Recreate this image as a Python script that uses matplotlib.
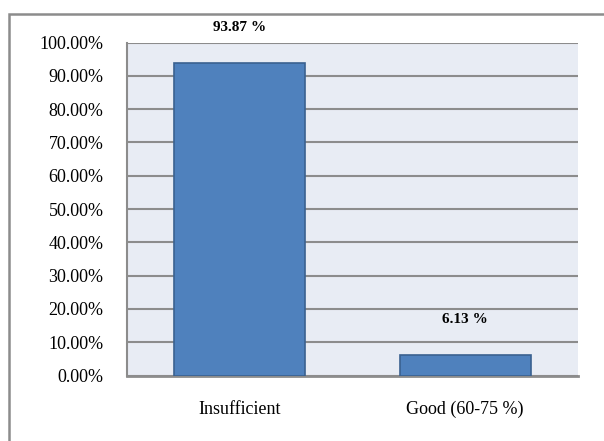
import matplotlib
matplotlib.use("Agg")
import matplotlib.pyplot as plt
from matplotlib.patches import Rectangle
from matplotlib.ticker import FuncFormatter

# Share of results per category (percent)
categories = ["Insufficient", "Good (60-75 %)"]
shares = [93.87, 6.13]
value_labels = ["93.87 %", "6.13 %"]

plt.rcParams['font.family'] = ['Liberation Serif', 'DejaVu Serif']

fig = plt.figure(figsize=(6.04, 4.41), dpi=100)

# outer chart frame (only left and top visible)
fig.patches.append(Rectangle((8.5 / 604, -0.1), 1.2, 0.1 + (441 - 13.5) / 441,
                             transform=fig.transFigure, fill=False,
                             edgecolor="#8c8c8c", linewidth=1.8))

ax = fig.add_axes([127 / 604, (441 - 375.5) / 441, 451 / 604, 333 / 441])
ax.set_facecolor("#e8ecf4")

x = range(len(categories))
bars = ax.bar(x, shares, width=0.58, color="#4f81bd", edgecolor="#3a6190",
              linewidth=1.2, zorder=3)

ax.set_xlim(-0.5, 1.5)
ax.set_ylim(0, 100)
ax.set_yticks(range(0, 101, 10))
ax.yaxis.set_major_formatter(FuncFormatter(lambda v, p: f"{v:.2f}%"))
ax.set_xticks(list(x))
ax.set_xticklabels(categories, fontsize=13)
ax.tick_params(axis="y", labelsize=13, length=0, pad=17)
ax.tick_params(axis="x", length=0, pad=18)
ax.grid(axis="y", color="#8c8c8c", linewidth=1.5, zorder=1)
ax.set_axisbelow(True)

for side in ["top", "right"]:
    ax.spines[side].set_visible(False)
ax.spines["left"].set_color("#8c8c8c")
ax.spines["left"].set_linewidth(1.5)
ax.spines["bottom"].set_color("#8c8c8c")
ax.spines["bottom"].set_linewidth(2)

for b, v, lab in zip(bars, shares, value_labels):
    ax.annotate(lab, (b.get_x() + b.get_width() / 2, v), xytext=(0, 25.5),
                textcoords="offset points", ha="center", va="center",
                fontsize=11, fontweight="bold", annotation_clip=False)

fig.savefig("out.png", dpi=100)
